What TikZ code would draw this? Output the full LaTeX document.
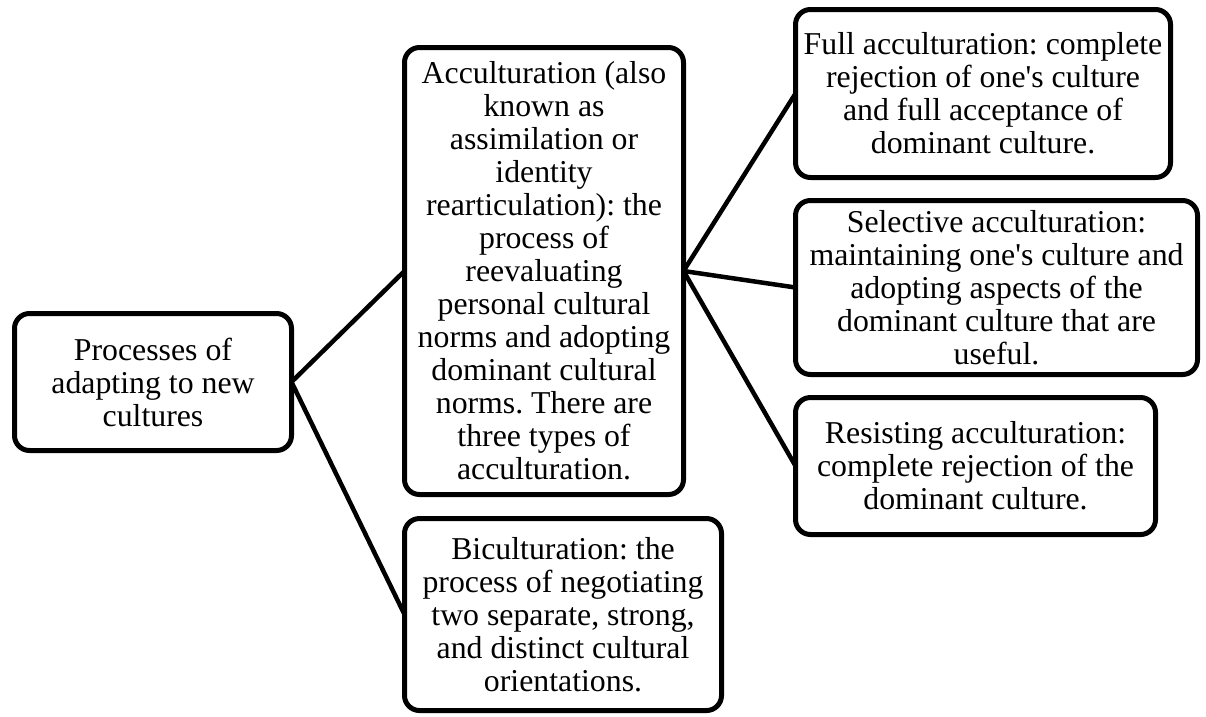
\documentclass[tikz,border=0pt]{standalone}
\usepackage{fontspec}
\setmainfont{Liberation Serif}
\begin{document}
\frenchspacing
\begin{tikzpicture}[x=1pt,y=-1pt,
  box/.style={draw=black, line width=5pt, rounded corners=15pt, align=center,
    inner sep=0pt, outer sep=0pt, fill=white,
    font=\fontsize{31.8pt}{33pt}\selectfont},
  conn/.style={draw=black, line width=4.5pt}]
\useasboundingbox (0,0) rectangle (1206,716);
\node[box, minimum width=277pt, minimum height=137pt] (root) at (153,382)
  {Processes of\\adapting to new\\cultures};
\node[box, minimum width=279pt, minimum height=447pt] (acc) at (544,271)
  {Acculturation (also\\known as\\assimilation or\\identity\\rearticulation): the\\process of\\reevaluating\\personal cultural\\norms and adopting\\dominant cultural\\norms. There are\\three types of\\acculturation.};
\node[box, minimum width=317pt, minimum height=192pt] (bic) at (563,614.5)
  {Biculturation: the\\process of negotiating\\two separate, strong,\\and distinct cultural\\orientations.};
\node[box, minimum width=375pt, minimum height=168pt] (full) at (983,93.5)
  {Full acculturation: complete\\rejection of one\textquotesingle s culture\\and full acceptance of\\dominant culture.};
\node[box, minimum width=402pt, minimum height=174pt] (sel) at (996.5,287.5)
  {Selective acculturation:\\maintaining one\textquotesingle s culture and\\adopting aspects of the\\dominant culture that are\\useful.};
\node[box, minimum width=360pt, minimum height=137pt] (res) at (975.5,466)
  {Resisting acculturation:\\complete rejection of the\\dominant culture.};
\draw[conn] (root.east) -- (acc.west);
\draw[conn] (root.east) -- (bic.west);
\draw[conn] (acc.east) -- (full.west);
\draw[conn] (acc.east) -- (sel.west);
\draw[conn] (acc.east) -- (res.west);
\end{tikzpicture}
\end{document}
